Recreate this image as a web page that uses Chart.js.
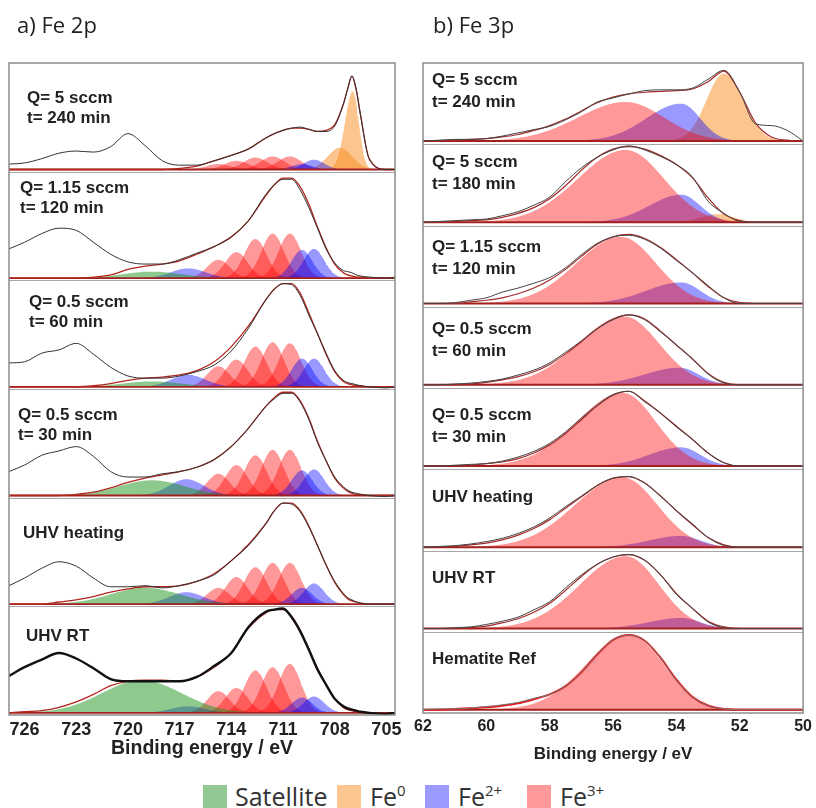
<!DOCTYPE html>
<html>
<head>
<meta charset="utf-8">
<script src="https://cdn.jsdelivr.net/npm/chart.js@4.4.1/dist/chart.umd.min.js"></script>
<style>
  body { margin: 0; background: #fff; width: 816px; height: 808px; position: relative; overflow: hidden; }
  canvas { position: absolute; top: 0; }
  #c2p { left: 0; }
  #c3p { left: 410px; }
  .sw { position: absolute; top: 785px; width: 24px; height: 23px; }
  .lt { position: absolute; top: 784px; font: 25px/25px "Open Sans", sans-serif; color: #333; white-space: nowrap; }
  .lt sup { font-size: 15px; line-height: 0; vertical-align: 10px; }
</style>
</head>
<body>
<canvas id="c2p" width="410" height="770"></canvas>
<canvas id="c3p" width="406" height="770"></canvas>

<div class="sw" style="left:203px;background:#92c892"></div><span class="lt" style="left:235px">Satellite</span>
<div class="sw" style="left:337px;background:#fdc690"></div><span class="lt" style="left:370px">Fe<sup>0</sup></span>
<div class="sw" style="left:425px;background:#9a9aff"></div><span class="lt" style="left:458px">Fe<sup>2+</sup></span>
<div class="sw" style="left:527px;background:#ff9a9a"></div><span class="lt" style="left:560px">Fe<sup>3+</sup></span>

<script>
// ---------- Fe 2p ----------
const energy2p = [726.9, 726, 725, 724, 723, 722, 721, 720, 719, 718, 717, 716, 715, 714, 713, 712,
                  711.5, 711, 710.5, 710, 709.5, 709, 708.5, 708, 707.5, 707.25, 707, 706.75, 706.5, 706, 705, 704.5];
const ticks2p = [726, 723, 720, 717, 714, 711, 708, 705];
const labels2p = [['Q= 5 sccm', 't= 240 min'], ['Q= 1.15 sccm', 't= 120 min'], ['Q= 0.5 sccm', 't= 60 min'],
                  ['Q= 0.5 sccm', 't= 30 min'], ['UHV heating'], ['UHV RT']];

// measured spectra (normalised to panel height)
const fe2p_q5_240  = [0.05, 0.06, 0.10, 0.15, 0.17, 0.16, 0.21, 0.33, 0.22, 0.08, 0.04, 0.04, 0.08, 0.13, 0.19, 0.29, 0.33, 0.36, 0.38, 0.39, 0.37, 0.35, 0.35, 0.40, 0.60, 0.74, 0.86, 0.74, 0.50, 0.10, 0.00, 0.00];
const fe2p_q115_120 = [0.27, 0.33, 0.41, 0.46, 0.44, 0.33, 0.22, 0.15, 0.13, 0.13, 0.17, 0.23, 0.29, 0.38, 0.53, 0.77, 0.86, 0.91, 0.91, 0.81, 0.65, 0.46, 0.27, 0.14, 0.07, 0.06, 0.05, 0.03, 0.02, 0.01, 0.00, 0.01];
const fe2p_q05_60  = [0.22, 0.23, 0.31, 0.34, 0.40, 0.30, 0.18, 0.10, 0.08, 0.08, 0.10, 0.14, 0.20, 0.33, 0.54, 0.80, 0.90, 0.95, 0.94, 0.84, 0.66, 0.49, 0.31, 0.15, 0.06, 0.04, 0.03, 0.02, 0.01, 0.00, -0.01, 0.00];
const fe2p_q05_30  = [0.22, 0.28, 0.37, 0.41, 0.45, 0.36, 0.22, 0.17, 0.17, 0.20, 0.22, 0.26, 0.33, 0.45, 0.62, 0.82, 0.89, 0.94, 0.94, 0.86, 0.70, 0.49, 0.32, 0.17, 0.08, 0.05, 0.03, 0.02, 0.01, 0.00, -0.01, 0.00];
const fe2p_uhvHeat = [0.17, 0.24, 0.33, 0.39, 0.35, 0.24, 0.16, 0.16, 0.17, 0.15, 0.17, 0.21, 0.27, 0.40, 0.54, 0.74, 0.86, 0.93, 0.92, 0.85, 0.71, 0.54, 0.36, 0.21, 0.10, 0.06, 0.04, 0.02, 0.01, 0.00, 0.00, 0.00];
const fe2p_uhvRT   = [0.34, 0.42, 0.49, 0.55, 0.50, 0.41, 0.31, 0.29, 0.29, 0.29, 0.29, 0.33, 0.43, 0.55, 0.79, 0.93, 0.95, 0.96, 0.88, 0.75, 0.58, 0.40, 0.26, 0.13, 0.06, 0.04, 0.03, 0.02, 0.01, 0.00, -0.01, 0.00];

// fit envelopes
const fit2p_q5_240  = [0, 0, 0, 0, 0, 0, 0, 0, 0, 0, 0.01, 0.03, 0.08, 0.13, 0.19, 0.29, 0.33, 0.36, 0.38, 0.38, 0.37, 0.35, 0.36, 0.41, 0.60, 0.74, 0.86, 0.73, 0.50, 0.10, 0, 0];
const fit2p_q115_120 = [0, 0, 0, 0, 0, 0.01, 0.03, 0.08, 0.11, 0.13, 0.16, 0.22, 0.29, 0.38, 0.53, 0.76, 0.86, 0.92, 0.92, 0.84, 0.68, 0.47, 0.28, 0.13, 0.05, 0.03, 0.02, 0.01, 0.01, 0, 0, 0];
const fit2p_q05_60  = [0, 0, 0, 0, 0, 0.01, 0.03, 0.06, 0.08, 0.09, 0.11, 0.15, 0.23, 0.37, 0.56, 0.80, 0.90, 0.95, 0.95, 0.86, 0.68, 0.49, 0.30, 0.14, 0.05, 0.03, 0.02, 0.01, 0.01, 0, 0, 0];
const fit2p_q05_30  = [0, 0, 0, 0, 0.01, 0.03, 0.07, 0.12, 0.16, 0.19, 0.22, 0.26, 0.33, 0.45, 0.62, 0.82, 0.90, 0.95, 0.95, 0.87, 0.71, 0.50, 0.32, 0.16, 0.07, 0.04, 0.02, 0.01, 0.01, 0, 0, 0];
const fit2p_uhvHeat = [0, 0, 0, 0.02, 0.04, 0.07, 0.11, 0.14, 0.16, 0.16, 0.17, 0.21, 0.28, 0.40, 0.55, 0.74, 0.86, 0.93, 0.93, 0.86, 0.72, 0.54, 0.36, 0.20, 0.09, 0.05, 0.03, 0.02, 0.01, 0, 0, 0];
const fit2p_uhvRT   = [0, 0.01, 0.02, 0.05, 0.10, 0.17, 0.25, 0.29, 0.30, 0.30, 0.29, 0.33, 0.42, 0.55, 0.78, 0.92, 0.95, 0.95, 0.89, 0.76, 0.59, 0.41, 0.26, 0.13, 0.05, 0.03, 0.02, 0.01, 0.01, 0, 0, 0];

// fitted components: [centre eV, height, width high-BE side, width low-BE side]
const fe3_2p = [
  [[710.6, 0.12, 0.7], [711.6, 0.12, 0.7], [712.6, 0.11, 0.7], [713.7, 0.08, 0.7], [714.75, 0.05, 0.7]],
  [[710.6, 0.41, 0.65], [711.6, 0.41, 0.65], [712.6, 0.36, 0.65], [713.7, 0.24, 0.65], [714.75, 0.17, 0.65]],
  [[710.6, 0.40, 0.65], [711.6, 0.41, 0.65], [712.6, 0.37, 0.65], [713.7, 0.25, 0.65], [714.75, 0.19, 0.65]],
  [[710.6, 0.42, 0.65], [711.6, 0.42, 0.65], [712.6, 0.37, 0.65], [713.7, 0.28, 0.65], [714.75, 0.20, 0.65]],
  [[710.6, 0.38, 0.65], [711.6, 0.38, 0.65], [712.6, 0.34, 0.65], [713.7, 0.25, 0.65], [714.75, 0.15, 0.65]],
  [[710.6, 0.45, 0.65], [711.6, 0.42, 0.65], [712.6, 0.39, 0.65], [713.7, 0.23, 0.65], [714.75, 0.20, 0.65]]
];
const fe2_2p = [
  [[709.9, 0.05, 0.6], [709.2, 0.09, 0.6]],
  [[709.9, 0.26, 0.6], [709.2, 0.27, 0.6], [716.5, 0.09, 1.0]],
  [[709.9, 0.26, 0.6], [709.2, 0.26, 0.6], [716.5, 0.11, 1.0]],
  [[709.9, 0.23, 0.6], [709.2, 0.24, 0.6], [716.6, 0.15, 1.0]],
  [[709.9, 0.15, 0.6], [709.2, 0.19, 0.6], [716.6, 0.11, 1.0]],
  [[709.9, 0.14, 0.6], [709.2, 0.15, 0.6], [716.5, 0.06, 1.0]]
];
const fe0_2p = [
  [[706.95, 0.72, 0.45, 0.35], [707.7, 0.20, 0.7]],
  [[706.8, 0.02, 0.4]], [], [], [], []
];
const sat_2p = [
  [], [[718.6, 0.06, 1.7]], [[718.6, 0.05, 1.7]], [[718.6, 0.14, 1.9]], [[719.0, 0.15, 2.0]], [[719.2, 0.30, 2.3]]
];

// ---------- Fe 3p ----------
const energy3p = [62, 61.5, 61, 60.5, 60, 59.5, 59, 58.5, 58, 57.5, 57, 56.5, 56, 55.5, 55, 54.5, 54, 53.5, 53, 52.5, 52, 51.5, 51, 50.5, 50];
const ticks3p = [62, 60, 58, 56, 54, 52, 50];
const labels3p = [['Q= 5 sccm', 't= 240 min'], ['Q= 5 sccm', 't= 180 min'], ['Q= 1.15 sccm', 't= 120 min'],
                  ['Q= 0.5 sccm', 't= 60 min'], ['Q= 0.5 sccm', 't= 30 min'], ['UHV heating'], ['UHV RT'], ['Hematite Ref']];

const fe3p_q5_240  = [0, 0.01, 0.02, 0.02, 0.03, 0.06, 0.10, 0.14, 0.18, 0.26, 0.36, 0.48, 0.53, 0.58, 0.62, 0.63, 0.63, 0.65, 0.76, 0.87, 0.60, 0.21, 0.19, 0.13, 0];
const fe3p_q5_180  = [0, 0.01, 0.02, 0.03, 0.04, 0.08, 0.13, 0.21, 0.31, 0.50, 0.67, 0.80, 0.89, 0.94, 0.89, 0.81, 0.71, 0.56, 0.26, 0.11, 0.01, 0, 0, 0, 0];
const fe3p_q115_120 = [0, 0, 0.01, 0.04, 0.07, 0.14, 0.19, 0.25, 0.32, 0.44, 0.60, 0.74, 0.82, 0.84, 0.79, 0.68, 0.53, 0.38, 0.22, 0.07, 0, 0, 0, 0, 0];
const fe3p_q05_60  = [0, 0, 0.01, 0.02, 0.04, 0.07, 0.12, 0.18, 0.27, 0.40, 0.54, 0.69, 0.80, 0.86, 0.80, 0.65, 0.49, 0.32, 0.13, 0.02, 0, 0, 0, 0, 0];
const fe3p_q05_30  = [0, 0, 0.01, 0.02, 0.03, 0.06, 0.11, 0.18, 0.28, 0.42, 0.59, 0.75, 0.88, 0.92, 0.79, 0.65, 0.48, 0.33, 0.16, 0.04, 0, 0, 0, 0, 0];
const fe3p_uhvHeat = [0, 0.01, 0.02, 0.04, 0.07, 0.11, 0.17, 0.25, 0.36, 0.50, 0.63, 0.76, 0.85, 0.87, 0.79, 0.63, 0.45, 0.29, 0.12, 0.02, 0, 0, 0, 0, 0];
const fe3p_uhvRT   = [0, 0, 0.01, 0.02, 0.05, 0.09, 0.14, 0.23, 0.33, 0.50, 0.66, 0.79, 0.88, 0.91, 0.84, 0.66, 0.42, 0.25, 0.08, 0.01, 0, 0, 0, 0, 0];
const fe3p_hematite = [0, 0.01, 0.01, 0.02, 0.04, 0.06, 0.09, 0.14, 0.19, 0.29, 0.46, 0.68, 0.86, 0.92, 0.85, 0.64, 0.36, 0.16, 0.05, 0.01, 0, 0, 0, 0, 0];

const fit3p_q5_240  = [0, 0, 0.01, 0.02, 0.03, 0.05, 0.08, 0.13, 0.19, 0.27, 0.37, 0.47, 0.54, 0.58, 0.60, 0.61, 0.62, 0.64, 0.73, 0.86, 0.60, 0.22, 0.05, 0.01, 0];
const fit3p_q5_180  = [0, 0, 0.01, 0.02, 0.03, 0.06, 0.11, 0.18, 0.29, 0.45, 0.64, 0.80, 0.90, 0.93, 0.90, 0.82, 0.71, 0.55, 0.30, 0.10, 0.02, 0, 0, 0, 0];
const fit3p_q115_120 = [0, 0, 0, 0.02, 0.04, 0.07, 0.12, 0.19, 0.29, 0.42, 0.58, 0.73, 0.82, 0.85, 0.80, 0.69, 0.54, 0.38, 0.21, 0.07, 0.01, 0, 0, 0, 0];
const fit3p_q05_60  = [0, 0, 0, 0.01, 0.03, 0.06, 0.10, 0.16, 0.25, 0.38, 0.53, 0.69, 0.81, 0.86, 0.81, 0.66, 0.49, 0.32, 0.14, 0.03, 0, 0, 0, 0, 0];
const fit3p_q05_30  = [0, 0, 0, 0.01, 0.03, 0.05, 0.09, 0.16, 0.26, 0.40, 0.57, 0.74, 0.87, 0.92, 0.80, 0.65, 0.49, 0.33, 0.16, 0.04, 0, 0, 0, 0, 0];
const fit3p_uhvHeat = [0, 0, 0.01, 0.03, 0.05, 0.09, 0.15, 0.23, 0.34, 0.48, 0.62, 0.76, 0.85, 0.87, 0.79, 0.63, 0.45, 0.28, 0.12, 0.03, 0, 0, 0, 0, 0];
const fit3p_uhvRT   = [0, 0, 0, 0.01, 0.03, 0.07, 0.12, 0.20, 0.31, 0.47, 0.64, 0.79, 0.88, 0.91, 0.84, 0.66, 0.43, 0.25, 0.09, 0.02, 0, 0, 0, 0, 0];
const fit3p_hematite = [0, 0, 0.01, 0.02, 0.03, 0.05, 0.08, 0.13, 0.19, 0.29, 0.46, 0.68, 0.86, 0.92, 0.85, 0.64, 0.37, 0.16, 0.05, 0.01, 0, 0, 0, 0, 0];

const fe3_3p = [
  [[55.6, 0.48, 1.5, 1.2]], [[55.6, 0.89, 1.5, 1.2]], [[55.75, 0.82, 1.4, 1.1]], [[55.65, 0.84, 1.45, 1.1]],
  [[55.7, 0.90, 1.45, 1.05]], [[55.7, 0.86, 1.5, 1.1]], [[55.6, 0.89, 1.45, 1.05]], [[55.5, 0.92, 1.35, 1.1]]
];
const fe2_3p = [
  [[53.85, 0.46, 1.1, 0.6]], [[53.85, 0.34, 1.0, 0.6]], [[53.85, 0.26, 1.1, 0.6]], [[53.9, 0.21, 1.1, 0.6]],
  [[53.85, 0.23, 1.0, 0.6]], [[53.85, 0.14, 1.0, 0.6]], [[53.85, 0.13, 1.0, 0.6]], []
];
const fe0_3p = [[[52.5, 0.83, 0.55, 0.6]], [[52.7, 0.10, 0.5]], [], [], [], [], [], []];

// ---------- drawing ----------
const FONT = '"Liberation Sans", Arial, sans-serif';
const FE3 = 'rgba(255,0,0,0.4)', FE2 = 'rgba(0,0,255,0.4)', FE0 = 'rgba(250,140,30,0.5)', SAT = 'rgba(30,150,30,0.5)';

// sample one fitted component as a line
function peakPoints(p, base) {
  const [c, h, wHi, wLo = wHi] = p;
  const pts = [];
  for (let e = c - 4 * wLo; e <= c + 4 * wHi + 1e-9; e += 0.05) {
    const w = e > c ? wHi : wLo;
    pts.push({ x: e, y: base + h * Math.exp(-0.5 * ((e - c) / w) ** 2) });
  }
  return pts;
}

function buildDatasets(energy, raws, fits, comps, lift, style) {
  const n = raws.length, sets = [];
  raws.forEach((raw, i) => {
    const base = n - 1 - i + lift;
    comps.forEach(([list, colour]) => {
      (list[i] || []).forEach(p => sets.push({
        data: peakPoints(p, base), fill: { value: base }, backgroundColor: colour,
        borderColor: 'transparent', borderWidth: 0, pointRadius: 0, order: 3
      }));
    });
    sets.push({
      data: [{ x: energy[0], y: base }, { x: energy[energy.length - 1], y: base }],
      borderColor: '#a3201c', borderWidth: 1.8, pointRadius: 0, fill: false, order: 2
    });
    sets.push({
      data: energy.map((e, k) => ({ x: e, y: base + fits[i][k] })),
      borderColor: style.fitColour[i], borderWidth: style.fitWidth[i], pointRadius: 0, fill: false,
      cubicInterpolationMode: 'monotone', order: 1
    });
    sets.push({
      data: energy.map((e, k) => ({ x: e, y: base + raw[k] })),
      borderColor: style.rawColour[i], borderWidth: style.rawWidth[i], pointRadius: 0, fill: false,
      cubicInterpolationMode: 'monotone', order: 0
    });
  });
  return sets;
}

const panelPlugin = {
  id: 'panel',
  beforeDatasetsDraw(chart, args, o) {
    const { ctx, chartArea: a, scales: { y } } = chart;
    ctx.save();
    ctx.strokeStyle = '#a8a8a8';
    ctx.lineWidth = 1;
    for (let k = 1; k < o.labels.length; k++) {
      const py = Math.round(y.getPixelForValue(k)) + 0.5;
      ctx.beginPath(); ctx.moveTo(a.left, py); ctx.lineTo(a.right, py); ctx.stroke();
    }
    ctx.restore();
  },
  afterDraw(chart, args, o) {
    const { ctx, chartArea: a, scales: { y } } = chart;
    const n = o.labels.length;
    ctx.save();
    ctx.strokeStyle = '#8c8c8c';
    ctx.lineWidth = 1.5;
    ctx.strokeRect(a.left, a.top, a.right - a.left, a.bottom - a.top);
    ctx.fillStyle = '#222';
    ctx.font = '22px "Open Sans", sans-serif';
    ctx.textBaseline = 'alphabetic';
    ctx.fillText(o.title, o.titleX, 33);
    ctx.font = 'bold 17px ' + FONT;
    ctx.textBaseline = 'middle';
    o.labels.forEach((lines, i) => {
      const top = y.getPixelForValue(n - i);
      lines.forEach((t, j) => ctx.fillText(t, a.left + o.labelX[i], top + o.labelTop[i] + j * o.lineGap));
    });
    ctx.restore();
  }
};

function makePanel(id, cfg) {
  const n = cfg.labels.length;
  return new Chart(document.getElementById(id), {
    type: 'line',
    data: { datasets: cfg.datasets },
    plugins: [panelPlugin],
    options: {
      responsive: false,
      animation: false,
      events: [],
      layout: { padding: cfg.padding },
      plugins: {
        legend: { display: false },
        tooltip: { enabled: false },
        panel: { title: cfg.title, titleX: cfg.titleX, labels: cfg.labels, labelX: cfg.labelX, labelTop: cfg.labelTop, lineGap: cfg.lineGap }
      },
      scales: {
        x: {
          type: 'linear', reverse: true, min: cfg.min, max: cfg.max,
          grid: { display: false, drawTicks: false }, border: { display: false },
          afterBuildTicks: s => { s.ticks = cfg.ticks.map(v => ({ value: v })); },
          afterFit: s => { s.height = cfg.axisHeight; },
          ticks: { autoSkip: false, maxRotation: 0, padding: 4, color: '#222', font: { family: FONT, size: cfg.tickSize, weight: 'bold' } },
          title: { display: true, text: 'Binding energy / eV', color: '#222', padding: { top: 0, bottom: cfg.titlePad },
                   font: { family: FONT, size: cfg.titleSize, weight: 'bold' } }
        },
        y: { display: false, min: 0, max: n }
      }
    }
  });
}

makePanel('c2p', {
  title: 'a) Fe 2p', titleX: 17, labels: labels2p,
  labelX: [18, 11, 20, 9, 14, 17], labelTop: [35, 17, 22, 26, 36, 30], lineGap: 20,
  min: 704.5, max: 726.9, ticks: ticks2p, padding: { left: 9, right: 15, top: 63, bottom: 0 },
  axisHeight: 55, tickSize: 18, titleSize: 19.5, titlePad: 10,
  datasets: buildDatasets(energy2p,
    [fe2p_q5_240, fe2p_q115_120, fe2p_q05_60, fe2p_q05_30, fe2p_uhvHeat, fe2p_uhvRT],
    [fit2p_q5_240, fit2p_q115_120, fit2p_q05_60, fit2p_q05_30, fit2p_uhvHeat, fit2p_uhvRT],
    [[sat_2p, SAT], [fe2_2p, FE2], [fe3_2p, FE3], [fe0_2p, FE0]], 0.02,
    { rawColour: ['#333', '#333', '#333', '#333', '#333', '#111'], rawWidth: [1, 1, 1, 1, 1, 2.4],
      fitColour: Array(6).fill('#b3261e'), fitWidth: Array(6).fill(1.3) })
});

makePanel('c3p', {
  title: 'b) Fe 3p', titleX: 23, labels: labels3p,
  labelX: Array(8).fill(9), labelTop: [17, 18, 22, 23, 27, 28, 28, 28], lineGap: 22,
  min: 50, max: 62, ticks: ticks3p, padding: { left: 13, right: 10, top: 63, bottom: 0 },
  axisHeight: 57, tickSize: 16, titleSize: 17, titlePad: 5,
  datasets: buildDatasets(energy3p,
    [fe3p_q5_240, fe3p_q5_180, fe3p_q115_120, fe3p_q05_60, fe3p_q05_30, fe3p_uhvHeat, fe3p_uhvRT, fe3p_hematite],
    [fit3p_q5_240, fit3p_q5_180, fit3p_q115_120, fit3p_q05_60, fit3p_q05_30, fit3p_uhvHeat, fit3p_uhvRT, fit3p_hematite],
    [[fe3_3p, FE3], [fe2_3p, FE2], [fe0_3p, FE0]], 0.04,
    { rawColour: ['#444', '#444', '#444', '#444', '#444', '#444', '#444', '#777'], rawWidth: Array(8).fill(1),
      fitColour: ['#a52a2a', '#a52a2a', '#a52a2a', '#a52a2a', '#a52a2a', '#a52a2a', '#a52a2a', '#e8191a'],
      fitWidth: [1.2, 1.2, 1.2, 1.2, 1.2, 1.2, 1.2, 2] })
});
</script>
</body>
</html>
